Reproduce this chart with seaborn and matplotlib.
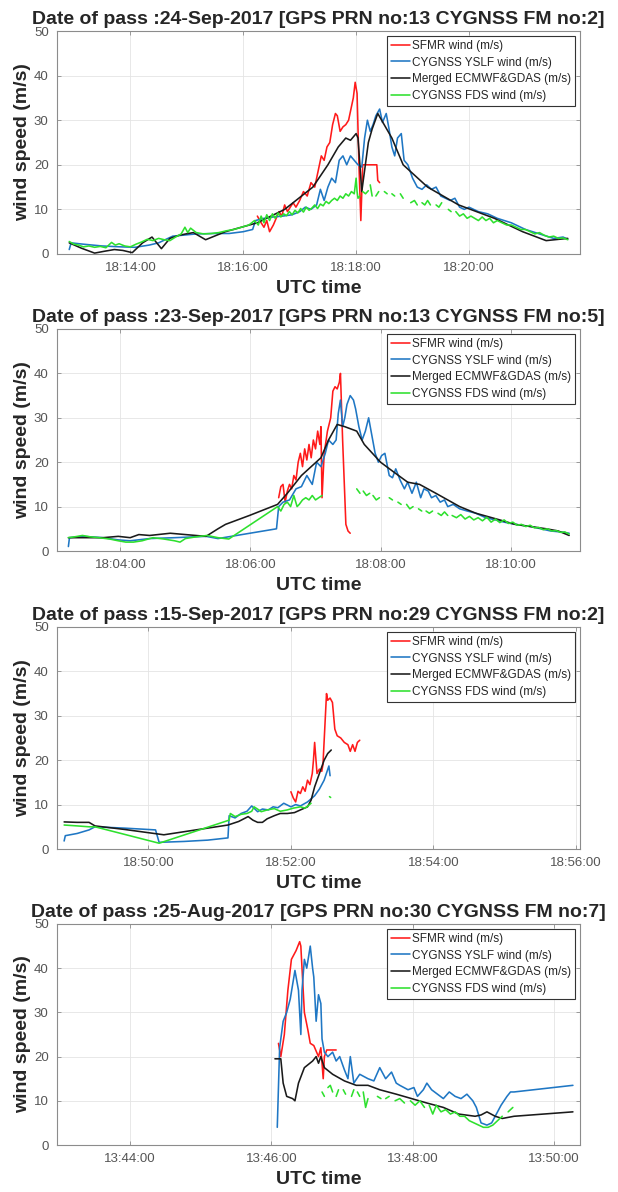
import numpy as np
import pandas as pd
import matplotlib
matplotlib.use("Agg")
import matplotlib.pyplot as plt
from matplotlib.lines import Line2D
import seaborn as sns

nan = np.nan

LABELS = ["SFMR wind (m/s)", "CYGNSS YSLF wind (m/s)",
          "Merged ECMWF&GDAS (m/s)", "CYGNSS FDS wind (m/s)"]
COLORS = ["#ff1a1a", "#1f77c4", "#1a1a1a", "#2ee02e"]

TITLES = ["Date of pass :24-Sep-2017 [GPS PRN no:13 CYGNSS FM no:2]",
          "Date of pass :23-Sep-2017 [GPS PRN no:13 CYGNSS FM no:5]",
          "Date of pass :15-Sep-2017 [GPS PRN no:29 CYGNSS FM no:2]",
          "Date of pass :25-Aug-2017 [GPS PRN no:30 CYGNSS FM no:7]"]
BASES = ["18:12:00", "18:02:00", "18:48:00", "13:42:00"]
XTICKS = [["18:14:00", "18:16:00", "18:18:00", "18:20:00"],
          ["18:04:00", "18:06:00", "18:08:00", "18:10:00"],
          ["18:50:00", "18:52:00", "18:54:00", "18:56:00"],
          ["13:44:00", "13:46:00", "13:48:00", "13:50:00"]]
XLIMS = [(42, 598), (61.5, 544), (43, 483.5), (58, 502)]
YTICKS = [0, 10, 20, 30, 40, 50]

# ---------------- Panel 1 (seconds after 18:12:00) ----------------
P1_SFMR_T = [255, 259, 262, 265, 268, 272, 275, 278, 281, 284, 287, 290, 293, 296, 300, 304, 308, 312, 316, 320,
             323, 326, 329, 332, 335, 338, 340, 343, 346, 349, 352, 355, 357, 359, 361, 363, 365, 367, 372, 378,
             382, 383, 385]
P1_SFMR_V = [8.5, 7, 6, 7.5, 5, 6.5, 8, 9.5, 8.5, 11, 9.5, 10.5, 11.5, 10.5, 12, 14, 13, 16, 15, 19,
             22, 21, 24, 25, 29, 31.5, 31, 27.5, 28.5, 29, 30, 33, 35, 38.5, 36, 20, 7.5, 20, 20, 20,
             20, 16.5, 16]
P1_YSLF_T = [55, 57, 70, 90, 110, 125, 140, 150, 165, 180, 190, 210, 225, 240, 250, 253, 262, 272, 282, 292,
             300, 306, 312, 318, 322, 326, 330, 334, 338, 342, 346, 350, 354, 358, 362, 366, 369, 372, 375, 378,
             381, 385, 388, 392, 395, 398, 401, 404, 408, 411, 415, 420, 425, 430, 435, 440, 445, 450, 455, 460,
             465, 470, 475, 480, 490, 500, 510, 525, 540, 555, 570, 580, 585]
P1_YSLF_V = [1, 2.5, 2.2, 1.8, 1.6, 1.5, 2, 2.5, 4, 4.3, 4.5, 4.6, 4.6, 5, 5.5, 7.5, 8, 8.3, 8.5, 8.8,
             9.5, 10.5, 10, 11, 14.5, 12, 15, 17, 16, 21, 22, 20, 22, 21, 20, 19.5, 26, 30, 27.5, 29,
             31, 32.5, 29.5, 31.5, 28, 24, 22, 26, 27, 21, 20, 17, 15, 14.5, 15.5, 14.5, 15, 13, 12.5, 12,
             12.5, 10.5, 10, 10.5, 9.5, 9, 8, 7, 5.5, 4.5, 3.5, 3.8, 3.3]
P1_MERGED_T = [55, 68, 82, 92, 103, 112, 122, 133, 143, 153, 162, 172, 179, 187, 200, 221, 255, 284, 314, 330,
               341, 349, 354, 360, 362, 366, 373, 377, 383, 398, 410, 436, 469, 507, 537, 562, 585]
P1_MERGED_V = [2.5, 1.3, 0.2, 0.6, 1, 0.8, 0.3, 2.5, 3.8, 1.2, 3.5, 4.2, 4.5, 4.8, 3.2, 5, 7, 10, 15, 20,
               24, 26, 25.5, 27, 26, 14, 25, 28, 31.5, 26, 20, 15, 11, 8, 5, 3, 3.5]
P1_FDS_T = ([55, 60, 65, 70, 76, 82, 88, 94, 100, 104, 108, 114, 120, 126, 132, 138, 144, 150, 156, 162,
             168, 174, 178, 181, 184, 190, 198, 206, 214, 222, 230, 238, 246, 252, 256, 259, 262, 265, 268, 271,
             274, 277, 280, 283, 286, 289, 292, 295, 298, 301, 304, 307, 310, 313, 316, 319, 322, 325, 328, 331,
             334, 337, 340, 343, 346, 349, 352, 355, 358, 360, 361, 362, 364]
            + [nan, 367, 370, 373, nan, 375, 377, nan, 381, 384, nan, 390, 393, nan, 398, 401, nan, 407, 410,
               nan, 418, 422, 425, nan, 430, 433, 436, 439, nan, 445, 448, 451, nan, 458, 461, nan]
            + [466, 470, 474, 478, 482, 486, 490, 494, 498, 502, 506, 510, 515, 520, 525, 530, 535, 540, 545, 550,
               555, 560, 565, 570, 575, 580, 585])
P1_FDS_V = ([2.8, 2.2, 2, 1.6, 1.8, 1.5, 1.7, 1.4, 2.6, 2, 2.3, 1.8, 1.6, 2.2, 2.7, 3.3, 3, 3.5, 3.2, 3,
             3.8, 4.5, 6, 4.8, 5.8, 4.8, 4.5, 4.6, 4.8, 5.2, 5.5, 6, 6.5, 7.5, 6.5, 8.5, 7, 8.8, 7.5, 9,
             8, 9.2, 8.3, 9, 8.6, 9.5, 8.8, 9.8, 9.2, 10.2, 9.4, 10.5, 9.8, 10.3, 11, 10.2, 11.2, 10.8, 11.8, 11.3,
             12, 12.5, 12, 13, 12.5, 13.5, 13, 14, 13.5, 17, 14, 12.5, 13]
            + [nan, 14, 13.5, 14.2, nan, 15.5, 13, nan, 13, 14, nan, 14, 13.5, nan, 13.5, 13, nan, 13.5, 12.5,
               nan, 11.5, 12, 11, nan, 11.5, 11, 12, 11, nan, 11, 10.5, 11.5, nan, 10, 9.5, nan]
            + [9.5, 8.5, 9, 8, 8.5, 8, 7.5, 8.3, 7.5, 8, 7, 7.5, 7, 6.5, 6.5, 6, 5.5, 5.5, 5, 4.5,
               4.8, 4.2, 3.8, 4, 3.5, 3.6, 3.2])

# ---------------- Panel 2 (seconds after 18:02:00) ----------------
P2_SFMR_T = [266, 268, 270, 272, 274, 276, 278, 280, 282, 284, 286, 288, 290, 292, 294, 296, 298, 300, 302, 304,
             305, 306, 308, 311, 314, 316, 318, 320, 322, 323, 325, 328, 330, 332]
P2_SFMR_V = [12, 14.5, 15, 11, 13.5, 15, 14, 17, 16, 20, 22, 19, 23, 20.5, 24, 21, 25, 23, 27, 24,
             28, 12, 22, 27, 30, 36, 37, 36.5, 38, 40, 25, 6, 4.5, 4]
P2_YSLF_T = [72, 73, 85, 104, 118, 129, 147, 170, 199, 210, 264, 266, 270, 276, 282, 287, 292, 297, 301, 305,
             309, 312, 316, 319, 321, 323, 325, 327, 329, 332, 335, 337, 340, 343, 346, 349, 352, 355, 358, 361,
             364, 368, 371, 374, 378, 382, 385, 389, 393, 397, 400, 404, 407, 411, 415, 419, 422, 427, 433, 440,
             448, 457, 466, 474, 480, 490, 499, 508, 517, 526, 534]
P2_YSLF_V = [1, 3, 3.3, 3, 2.5, 2.3, 2.8, 3, 3.3, 2.8, 5, 10, 11, 11.5, 14, 14.5, 17, 15, 20, 19,
             22, 25, 24, 25, 31, 34, 28, 30, 33, 35, 34, 32, 28, 25, 27, 30, 26, 22, 20, 21.5,
             22, 17, 16.5, 18.5, 16, 14, 15.5, 13, 15.5, 12, 14, 13.5, 12, 12.5, 11, 11.5, 10, 10.5, 9.5, 9,
             8.5, 7.5, 7, 6.5, 6.2, 5.8, 5.5, 5, 4.5, 4.3, 4]
P2_MERGED_T = [72, 90, 104, 118, 129, 137, 147, 166, 180, 199, 210, 217, 239, 265, 274, 287, 305, 312, 320, 327,
               338, 345, 360, 371, 385, 396, 411, 433, 448, 470, 484, 513, 524, 534]
P2_MERGED_V = [3, 3, 3, 3.3, 3, 3.7, 3.5, 4, 3.7, 3.3, 5, 6, 8, 10.5, 13, 17, 21, 25, 28.5, 28,
               27, 24, 20, 18, 15.5, 15, 13, 10, 8.5, 7, 6, 5, 4.5, 3.5]
P2_FDS_T = ([72, 78, 85, 92, 100, 110, 118, 125, 132, 140, 150, 160, 170, 175, 180, 190, 200, 210, 220, 265,
             268, 271, 274, 277, 280, 283, 285, 288, 291, 294, 297, 300, 303, 306]
            + [nan, 338, 341, nan, 344, 347, 350, nan, 353, 356, 359, nan, 368, 371, nan, 376, 379, nan,
               384, 387, 390, nan, 395, 398, nan, 402, 405, 408, nan, 413, 416, 419, 422, nan]
            + [426, 430, 434, 438, 442, 446, 450, 454, 458, 462, 466, 470, 474, 478, 482, 486, 490, 494, 498, 502,
               506, 510, 514, 518, 522, 526, 530, 534])
P2_FDS_V = ([3, 3.2, 3.5, 3.2, 3, 2.7, 2.3, 2, 2, 2.3, 3, 2.7, 2.3, 2, 2.8, 3.2, 3.5, 3, 2.7, 10,
             9, 10.5, 11, 10, 12.5, 10, 10.5, 11.5, 12, 11.5, 12.5, 11.5, 12, 12.5]
            + [nan, 14, 13, nan, 13.5, 12.5, 13, nan, 12.5, 11.5, 12, nan, 12, 11.5, nan, 11, 10.5, nan,
               10.5, 9.5, 10, nan, 9.5, 9, nan, 9, 8.5, 9, nan, 8.5, 8, 8.8, 8, nan]
            + [8, 7.5, 8.2, 7.2, 7.8, 7, 7.5, 6.8, 7.6, 6.5, 7.2, 6.4, 7, 6.2, 6.5, 5.8, 6, 5.5, 5.8, 5.2,
               5.3, 4.8, 5, 4.5, 4.6, 4.2, 4.3, 3.8])

# ---------------- Panel 3 (seconds after 18:48:00) ----------------
P3_SFMR_T = [240, 242, 244, 246, 248, 250, 252, 254, 256, 258, 259, 260, 262, 264, 266, 267, 270, 271, 273, 275,
             277, 279, 282, 285, 288, 290, 292, 294, 296, 298]
P3_SFMR_V = [12.9, 11.5, 10.6, 13, 12.5, 14, 13, 15.5, 14.5, 17, 20, 24, 17, 18, 17.5, 19, 35, 33.5, 34, 33,
             27, 25.5, 25, 24, 23.5, 22, 23.5, 22, 24, 24.5]
P3_YSLF_T = [49, 50, 60, 70, 75, 100, 126, 129, 150, 170, 187, 188, 193, 198, 203, 207, 212, 216, 221, 225,
             229, 234, 240, 244, 248, 254, 260, 264, 268, 272, 273]
P3_YSLF_V = [1.8, 3, 3.5, 4.3, 5, 4.7, 4.3, 1.5, 1.7, 2, 2.5, 7.5, 7, 8, 8.5, 9.7, 8.4, 9, 8.8, 9.5,
             9.3, 10.3, 9.5, 10, 9.7, 10.6, 12, 13.5, 15.5, 18.7, 16.5]
P3_MERGED_T = [49, 60, 70, 75, 100, 133, 160, 187, 196, 204, 208, 212, 216, 220, 226, 231, 237, 243, 248, 254,
               257, 260, 264, 268, 271, 274]
P3_MERGED_V = [6.1, 6, 6, 5.2, 4.4, 3.2, 4.3, 5.4, 6.2, 7.3, 6.5, 6, 6, 6.8, 7.5, 8, 8, 8.2, 8.8, 9.5,
               11, 14, 17, 20, 21.5, 22.3]
P3_FDS_T = [49, 60, 70, 75, 129, 188, 189, 193, 198, 203, 207, 209, 213, 215, 220, 226, 231, 237, 242, 248,
            252, 257, nan, 272.5, 273.5]
P3_FDS_V = [5.4, 5.2, 5, 5, 1.3, 6.5, 8, 7.3, 7.8, 8, 8.5, 9.5, 8.8, 8.4, 8.8, 9.1, 8.5, 8.8, 9.2, 9.5,
            9.2, 10.3, nan, 11.8, 11.6]

# ---------------- Panel 4 (seconds after 13:42:00) ----------------
P4_SFMR_T = [246, 248, 251, 254, 257, 261, 264, 265, 266, 268, 271, 273, 276, 280, 282, 284, 285, 287, 295]
P4_SFMR_V = [23, 20, 25, 35, 42, 44, 46, 45, 40, 30, 26, 23, 22.5, 20, 22, 15, 20, 21.5, 21.5]
P4_YSLF_T = [245, 247, 250, 253, 256, 260, 261, 263, 265, 266, 268, 270, 273, 275, 276, 278, 280, 282, 283, 285,
             288, 292, 295, 298, 302, 305, 307, 310, 315, 322, 327, 332, 337, 342, 346, 349, 356, 361, 364, 369,
             372, 376, 381, 386, 391, 396, 401, 406, 411, 414, 418, 423, 427, 430, 435, 440, 443, 446, 496]
P4_YSLF_V = [4, 22, 28, 30, 33, 39.5, 38, 35, 25, 35, 42, 40, 45, 40, 38, 28, 34, 32, 24, 21,
             20, 21, 19, 20, 17, 15, 20, 14, 16, 15, 14.5, 17.5, 15, 16.5, 14, 13.5, 12.5, 13, 11, 12.5,
             14, 12.5, 11.5, 10.5, 12, 11, 10.5, 11.5, 10, 8.5, 5, 4.5, 5, 6.5, 9, 11, 12, 12, 13.5]
P4_MERGED_T = [243, 248, 250, 253, 258, 260, 263, 268, 275, 278, 280, 282, 285, 292, 302, 312, 322, 332, 346, 359,
               372, 386, 399, 413, 418, 423, 430, 436, 446, 496]
P4_MERGED_V = [19.5, 19.5, 14, 11, 10.5, 10, 14, 17.5, 19, 20, 18.5, 20, 17.5, 16, 14.5, 13.5, 13.5, 12.5, 11.5, 10.5,
               9.5, 8.5, 7, 6.5, 6.8, 7.5, 6.5, 6, 6.5, 7.5]
P4_FDS_T = [283, 285, nan, 288, 290, 292, nan, 295, 297, nan, 301, 303, nan, 308, 310, nan, 313, 315, nan,
            318, 320, 322, nan, 330, 333, nan, 337, 340, nan, 345, 349, 353, nan, 358, 362, 366, 370, nan,
            374, 377, 380, 384, 388, 392, 396, 400, 404, 408, 412, 416, 420, 424, 428, 432, 436, nan, 441, 445]
P4_FDS_V = [12, 11, nan, 13, 13.5, 12, nan, 11, 12.5, nan, 12.5, 11.5, nan, 11, 12.5, nan, 12, 11, nan,
            12, 8.5, 10.5, nan, 11, 10.5, nan, 10.5, 11, nan, 10, 10.5, 9.5, nan, 10, 9, 10, 8.5, nan,
            9, 7, 9, 7.5, 8, 7, 7.5, 6.5, 6.5, 5.5, 5, 4.5, 4, 4, 4.5, 5.5, 6.5, nan, 7.5, 8.5]

PANELS = [
    [(P1_SFMR_T, P1_SFMR_V), (P1_YSLF_T, P1_YSLF_V), (P1_MERGED_T, P1_MERGED_V), (P1_FDS_T, P1_FDS_V)],
    [(P2_SFMR_T, P2_SFMR_V), (P2_YSLF_T, P2_YSLF_V), (P2_MERGED_T, P2_MERGED_V), (P2_FDS_T, P2_FDS_V)],
    [(P3_SFMR_T, P3_SFMR_V), (P3_YSLF_T, P3_YSLF_V), (P3_MERGED_T, P3_MERGED_V), (P3_FDS_T, P3_FDS_V)],
    [(P4_SFMR_T, P4_SFMR_V), (P4_YSLF_T, P4_YSLF_V), (P4_MERGED_T, P4_MERGED_V), (P4_FDS_T, P4_FDS_V)],
]


def hms(s):
    h, m, sec = (int(p) for p in s.split(":"))
    return h * 3600 + m * 60 + sec


def build_frame(series):
    parts = []
    for name, (t, v) in zip(LABELS, series):
        t = np.asarray(t, float)
        v = np.asarray(v, float)
        gap = np.isnan(v)
        seg = np.cumsum(gap)
        ok = ~gap
        parts.append(pd.DataFrame({
            "t": t[ok], "speed": v[ok], "series": name,
            "seg": [f"{name}#{s}" for s in seg[ok]],
        }))
    return pd.concat(parts, ignore_index=True)


sns.set_style("ticks")
plt.rcParams["font.family"] = ["Liberation Sans", "DejaVu Sans"]

fig = plt.figure(figsize=(6.18, 11.92), dpi=100)
W, H = 618.0, 1192.0
AX_LEFT, AX_RIGHT = 57, 580
AX_TB = [(31, 254), (329, 551), (627, 849), (924, 1145)]
palette = dict(zip(LABELS, COLORS))

for i in range(4):
    top, bot = AX_TB[i]
    ax = fig.add_axes([AX_LEFT / W, 1 - bot / H, (AX_RIGHT - AX_LEFT) / W, (bot - top) / H])
    df = build_frame(PANELS[i])
    sns.lineplot(data=df, x="t", y="speed", hue="series", hue_order=LABELS,
                 units="seg", estimator=None, sort=False, palette=palette,
                 linewidth=1.15, legend=False, ax=ax)
    base = hms(BASES[i])
    ax.set_xticks([hms(s) - base for s in XTICKS[i]])
    ax.set_xticklabels(XTICKS[i])
    ax.set_xlim(*XLIMS[i])
    ax.set_ylim(0, 50)
    ax.set_yticks(YTICKS)
    ax.grid(True, color="#e4e4e4", linewidth=0.6)
    ax.set_axisbelow(True)
    for sp in ax.spines.values():
        sp.set_visible(True)
        sp.set_color("#8c8c8c")
        sp.set_linewidth(0.8)
    ax.tick_params(direction="in", top=True, right=True, length=3, width=0.6,
                   color="#8c8c8c", labelcolor="#555555", labelsize=9.5, pad=6)
    ax.set_title(TITLES[i], fontsize=14, fontweight="bold", pad=5)
    ax.set_xlabel("UTC time", fontsize=14, fontweight="bold", labelpad=4)
    ax.set_ylabel("wind speed (m/s)", fontsize=14, fontweight="bold", labelpad=2)
    handles = [Line2D([], [], color=c, linewidth=1.15) for c in COLORS]
    leg = ax.legend(handles, LABELS, loc="upper right", fontsize=8.5, frameon=True,
                    fancybox=False, edgecolor="#333333", framealpha=1.0,
                    borderpad=0.3, labelspacing=0.4, handlelength=1.6,
                    handletextpad=0.2, borderaxespad=0.45)
    leg.get_frame().set_linewidth(0.8)

fig.savefig("out.png", dpi=100)
